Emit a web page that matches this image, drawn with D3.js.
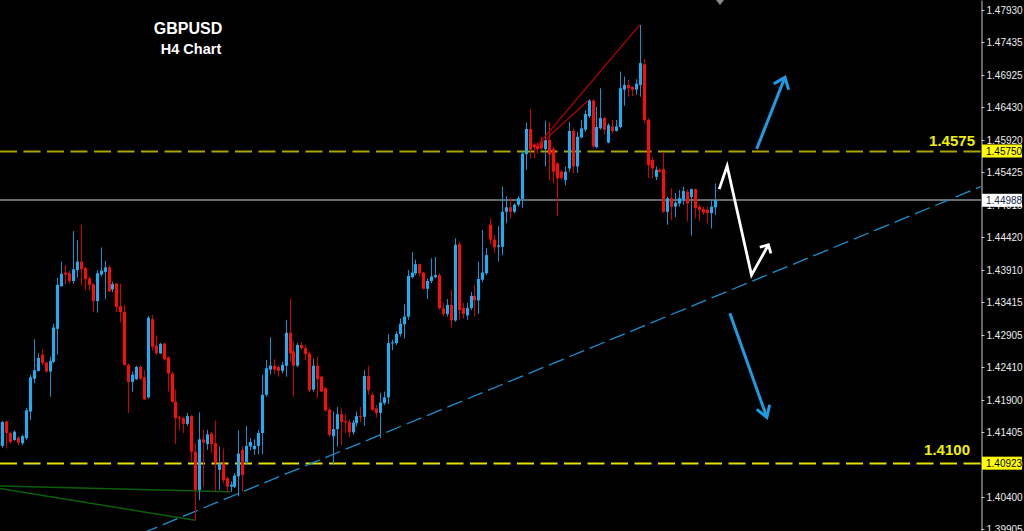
<!DOCTYPE html>
<html><head><meta charset="utf-8">
<script src="https://cdn.jsdelivr.net/npm/d3@7"></script>
<style>html,body{margin:0;padding:0;background:#000;overflow:hidden}</style>
</head><body>
<svg id="chart" width="1024" height="531"></svg>
<script>
// ---- DATA (GBPUSD H4) ----
const openP = [1.4119,1.4157,1.4139,1.4128,1.4132,1.4123,1.4131,1.4172,1.4223,1.4235,1.4260,1.4248,1.4234,1.4249,1.4300,1.4366,1.4387,1.4386,1.4374,1.4391,
1.4404,1.4394,1.4378,1.4369,1.4343,1.4384,1.4388,1.4395,1.4361,1.4370,1.4335,1.4326,1.4244,1.4218,1.4222,1.4241,1.4225,1.4194,1.4315,1.4274,
1.4262,1.4277,1.4256,1.4231,1.4187,1.4163,1.4162,1.4153,1.4165,1.4110,1.4051,1.4129,1.4122,1.4138,1.4123,1.4082,1.4092,1.4069,1.4056,1.4056,
1.4072,1.4113,1.4094,1.4118,1.4114,1.4119,1.4139,1.4198,1.4237,1.4243,1.4241,1.4235,1.4243,1.4294,1.4265,1.4243,1.4275,1.4270,1.4262,1.4206,
1.4243,1.4226,1.4208,1.4175,1.4134,1.4145,1.4168,1.4157,1.4156,1.4140,1.4154,1.4165,1.4164,1.4227,1.4198,1.4177,1.4170,1.4185,1.4194,1.4278,
1.4278,1.4292,1.4307,1.4319,1.4380,1.4386,1.4400,1.4387,1.4362,1.4374,1.4380,1.4383,1.4332,1.4323,1.4337,1.4313,1.4431,1.4332,1.4321,1.4332,
1.4351,1.4344,1.4376,1.4386,1.4461,1.4438,1.4427,1.4427,1.4481,1.4488,1.4481,1.4492,1.4501,1.4570,1.4609,1.4585,1.4583,1.4590,1.4578,1.4592,
1.4578,1.4556,1.4543,1.4530,1.4548,1.4606,1.4551,1.4596,1.4608,1.4629,1.4653,1.4581,1.4610,1.4626,1.4588,1.4613,1.4606,1.4612,1.4670,1.4677,
1.4674,1.4670,1.4677,1.4709,1.4623,1.4561,1.4535,1.4546,1.4547,1.4481,1.4502,1.4489,1.4494,1.4500,1.4512,1.4504,1.4516,1.4489,1.4485,1.4484,
1.4479,1.4488];
const highP = [1.4158,1.4158,1.4141,1.4143,1.4134,1.4136,1.4178,1.4229,1.4284,1.4262,1.4268,1.4249,1.4257,1.4308,1.4379,1.4404,1.4399,1.4390,1.4451,1.4437,
1.4461,1.4396,1.4381,1.4370,1.4391,1.4426,1.4405,1.4398,1.4373,1.4371,1.4370,1.4337,1.4246,1.4234,1.4243,1.4243,1.4236,1.4320,1.4321,1.4290,
1.4278,1.4279,1.4257,1.4234,1.4206,1.4166,1.4164,1.4170,1.4167,1.4123,1.4171,1.4144,1.4144,1.4141,1.4158,1.4118,1.4115,1.4071,1.4064,1.4077,
1.4143,1.4119,1.4150,1.4131,1.4129,1.4144,1.4229,1.4252,1.4287,1.4253,1.4244,1.4249,1.4314,1.4347,1.4280,1.4278,1.4280,1.4275,1.4265,1.4254,
1.4257,1.4227,1.4210,1.4179,1.4172,1.4179,1.4177,1.4168,1.4159,1.4159,1.4172,1.4179,1.4236,1.4243,1.4201,1.4182,1.4201,1.4203,1.4292,1.4283,
1.4296,1.4316,1.4338,1.4391,1.4419,1.4407,1.4401,1.4388,1.4378,1.4409,1.4411,1.4386,1.4340,1.4346,1.4360,1.4440,1.4435,1.4340,1.4340,1.4357,
1.4368,1.4404,1.4453,1.4425,1.4471,1.4445,1.4459,1.4520,1.4505,1.4503,1.4494,1.4505,1.4574,1.4619,1.4640,1.4588,1.4587,1.4597,1.4622,1.4620,
1.4582,1.4557,1.4546,1.4551,1.4620,1.4610,1.4605,1.4623,1.4638,1.4655,1.4655,1.4643,1.4672,1.4628,1.4618,1.4623,1.4623,1.4698,1.4690,1.4685,
1.4676,1.4686,1.4770,1.4717,1.4626,1.4566,1.4551,1.4548,1.4573,1.4504,1.4517,1.4510,1.4515,1.4520,1.4515,1.4517,1.4517,1.4492,1.4489,1.4489,
1.4499,1.4525];
const lowP = [1.4116,1.4115,1.4123,1.4127,1.4120,1.4120,1.4128,1.4159,1.4216,1.4234,1.4244,1.4232,1.4195,1.4247,1.4260,1.4365,1.4369,1.4370,1.4370,1.4380,
1.4367,1.4360,1.4360,1.4326,1.4325,1.4381,1.4346,1.4357,1.4357,1.4326,1.4310,1.4243,1.4170,1.4203,1.4221,1.4221,1.4190,1.4192,1.4266,1.4260,
1.4261,1.4251,1.4203,1.4186,1.4122,1.4143,1.4139,1.4150,1.4095,1.4004,1.4035,1.4056,1.4113,1.4107,1.4048,1.4051,1.4061,1.4048,1.4048,1.4054,
1.4041,1.4048,1.4090,1.4112,1.4105,1.4106,1.4106,1.4195,1.4229,1.4230,1.4226,1.4231,1.4226,1.4249,1.4195,1.4241,1.4267,1.4252,1.4202,1.4203,
1.4193,1.4202,1.4172,1.4133,1.4091,1.4118,1.4120,1.4139,1.4133,1.4136,1.4149,1.4156,1.4150,1.4198,1.4173,1.4163,1.4131,1.4182,1.4184,1.4267,
1.4275,1.4288,1.4285,1.4314,1.4378,1.4383,1.4381,1.4361,1.4346,1.4371,1.4378,1.4329,1.4319,1.4319,1.4302,1.4311,1.4314,1.4316,1.4314,1.4329,
1.4319,1.4323,1.4372,1.4383,1.4431,1.4417,1.4404,1.4414,1.4463,1.4471,1.4479,1.4489,1.4487,1.4546,1.4564,1.4564,1.4571,1.4577,1.4551,1.4530,
1.4525,1.4474,1.4530,1.4522,1.4543,1.4541,1.4541,1.4595,1.4605,1.4626,1.4579,1.4579,1.4608,1.4600,1.4587,1.4602,1.4605,1.4610,1.4645,1.4659,
1.4660,1.4662,1.4659,1.4618,1.4533,1.4533,1.4530,1.4541,1.4479,1.4461,1.4468,1.4473,1.4489,1.4492,1.4466,1.4444,1.4471,1.4466,1.4476,1.4463,
1.4455,1.4476];
const closeP = [1.4156,1.4139,1.4125,1.4141,1.4124,1.4134,1.4174,1.4225,1.4236,1.4255,1.4247,1.4234,1.4250,1.4302,1.4368,1.4385,1.4384,1.4374,1.4392,1.4404,
1.4392,1.4377,1.4368,1.4343,1.4386,1.4390,1.4395,1.4358,1.4369,1.4334,1.4326,1.4244,1.4218,1.4229,1.4241,1.4223,1.4191,1.4317,1.4272,1.4262,
1.4277,1.4253,1.4231,1.4187,1.4162,1.4161,1.4153,1.4165,1.4110,1.4051,1.4129,1.4124,1.4137,1.4122,1.4092,1.4092,1.4066,1.4056,1.4059,1.4073,
1.4107,1.4074,1.4119,1.4125,1.4119,1.4139,1.4198,1.4239,1.4243,1.4237,1.4235,1.4244,1.4294,1.4262,1.4243,1.4275,1.4270,1.4261,1.4205,1.4243,
1.4222,1.4203,1.4174,1.4136,1.4145,1.4168,1.4156,1.4155,1.4140,1.4155,1.4165,1.4164,1.4227,1.4205,1.4175,1.4170,1.4186,1.4194,1.4278,1.4279,
1.4292,1.4308,1.4319,1.4382,1.4387,1.4400,1.4386,1.4362,1.4374,1.4381,1.4383,1.4332,1.4323,1.4337,1.4313,1.4430,1.4329,1.4323,1.4332,1.4351,
1.4344,1.4377,1.4387,1.4414,1.4438,1.4426,1.4429,1.4481,1.4488,1.4481,1.4492,1.4502,1.4571,1.4609,1.4577,1.4581,1.4578,1.4579,1.4592,1.4570,
1.4543,1.4533,1.4533,1.4543,1.4606,1.4551,1.4597,1.4610,1.4632,1.4653,1.4582,1.4612,1.4626,1.4608,1.4615,1.4606,1.4613,1.4672,1.4677,1.4672,
1.4670,1.4679,1.4711,1.4623,1.4553,1.4548,1.4546,1.4543,1.4481,1.4502,1.4489,1.4495,1.4502,1.4513,1.4494,1.4516,1.4487,1.4484,1.4480,1.4479,
1.4489,1.4499];
const tickValues = [1.47930,1.47435,1.46925,1.46430,1.45920,1.45425,1.44915,1.44420,1.43910,1.43415,1.42905,1.42410,1.41900,1.41405,1.40910,1.40400,1.39905];
const levelPrices = [1.4575, 1.40923];
const levelTexts = ["1.4575", "1.4100"];
const levelBoxTexts = ["1.45750", "1.40923"];
const lastPrice = 1.44988;
const titleText = "GBPUSD";
const subtitleText = "H4 Chart";
// drawn objects, in (bar index, price)
const trendPts = [[58.87, 1.4040], [249.72, 1.4520]];
const greenLines = [[[0.4, 1.4057], [59, 1.4048]], [[0.4, 1.4053], [50, 1.4004]]];
const redLines = [[[136.8, 1.4582], [163, 1.4770]], [[137.2, 1.4583], [149.9, 1.4653]]];
const whitePath = [[183.2, 1.4516], [185.2, 1.4552], [191.4, 1.4383], [195.7, 1.4430]];
const upArrow = [[192.7, 1.4578], [199.9, 1.4689]];
const downArrow = [[185.9, 1.4324], [195.3, 1.4163]];

// ---- CHART ----
const W = 1024, H = 531, plotW = 981;
const svg = d3.select("#chart");
svg.append("rect").attr("width", W).attr("height", H).attr("fill", "#000");

const x = d3.scaleLinear().domain([0.4155, 249.72]).range([0, plotW]);
const y = d3.scaleLinear().domain([1.39874, 1.48085]).range([H, 0]);

svg.append("clipPath").attr("id", "clip").append("rect")
  .attr("x", 0).attr("y", 0).attr("width", plotW).attr("height", H);
const g = svg.append("g").attr("clip-path", "url(#clip)");

const line = d3.line().x(d => x(d[0])).y(d => y(d[1]));

// horizontal levels
const lvlColors = ["#aaa500", "#e2e000"];
levelPrices.forEach((p, k) => {
  g.append("line").attr("x1", 0).attr("x2", plotW)
    .attr("y1", Math.round(y(p)) + 0.5).attr("y2", Math.round(y(p)) + 0.5)
    .attr("stroke", lvlColors[k]).attr("stroke-width", 2)
    .attr("stroke-dasharray", "17,6.5");
});
// last price line
g.append("line").attr("x1", 0).attr("x2", plotW)
  .attr("y1", Math.round(y(lastPrice))).attr("y2", Math.round(y(lastPrice)))
  .attr("stroke", "#676c73").attr("stroke-width", 2);

// green lines
greenLines.forEach(l => g.append("path").attr("d", line(l))
  .attr("fill", "none").attr("stroke", "#0a600a").attr("stroke-width", 1.5));

// trend line extended
const slope = (trendPts[1][1] - trendPts[0][1]) / (trendPts[1][0] - trendPts[0][0]);
const dom = x.domain();
const trendExt = [[dom[0], trendPts[0][1] + slope * (dom[0] - trendPts[0][0])],
                  [dom[1], trendPts[0][1] + slope * (dom[1] - trendPts[0][0])]];
g.append("path").attr("d", line(trendExt)).attr("fill", "none")
  .attr("stroke", "#1890cc").attr("stroke-width", 1.3).attr("stroke-dasharray", "16,6");

// candles
const data = openP.map((o, i) => ({i: i + 1, o, h: highP[i], l: lowP[i], c: closeP[i]}));
const bull = "#17b0f5", bear = "#ff0a0a";
const cg = g.append("g");
cg.selectAll(".wick").data(data).enter().append("rect")
  .attr("x", d => Math.round(x(d.i)))
  .attr("y", d => y(d.h)).attr("width", 1)
  .attr("height", d => Math.max(1, y(d.l) - y(d.h)))
  .attr("fill", d => d.c >= d.o ? "#1590d0" : "#d40000");
cg.selectAll(".body").data(data).enter().append("rect")
  .attr("x", d => Math.round(x(d.i)) - 1)
  .attr("y", d => y(Math.max(d.o, d.c))).attr("width", 3)
  .attr("height", d => Math.max(1, Math.abs(y(d.o) - y(d.c))))
  .attr("fill", d => d.c >= d.o ? bull : bear);

// red lines
redLines.forEach(l => g.append("path").attr("d", line(l))
  .attr("fill", "none").attr("stroke", "#c00000").attr("stroke-width", 1.2));

// arrows
function arrowHead(pts, len, angDeg) {
  const p0 = [x(pts[pts.length - 2][0]), y(pts[pts.length - 2][1])];
  const p1 = [x(pts[pts.length - 1][0]), y(pts[pts.length - 1][1])];
  const a = Math.atan2(p0[1] - p1[1], p0[0] - p1[0]);
  const r = angDeg * Math.PI / 180;
  return "M" + (p1[0] + len * Math.cos(a + r)) + "," + (p1[1] + len * Math.sin(a + r)) +
    "L" + p1[0] + "," + p1[1] +
    "L" + (p1[0] + len * Math.cos(a - r)) + "," + (p1[1] + len * Math.sin(a - r));
}
function drawArrow(pts, color, w, len, ang) {
  g.append("path").attr("d", line(pts)).attr("fill", "none").attr("stroke", color)
    .attr("stroke-width", w).attr("stroke-linejoin", "miter").attr("stroke-linecap", "butt");
  g.append("path").attr("d", arrowHead(pts, len, ang)).attr("fill", "none").attr("stroke", color)
    .attr("stroke-width", w).attr("stroke-linejoin", "miter");
}
drawArrow(whitePath, "#ffffff", 2.8, 9, 45);
drawArrow(upArrow, "#1e9be2", 3, 13, 38);
drawArrow(downArrow, "#1e9be2", 3, 13, 32);

// small marker at top
g.append("path").attr("d", "M716,0L724,0L720,5Z").attr("fill", "#8a8a8a");

// level labels
const lvlTextX = [975, 970];
const lvlTextDy = [-5, -8];
levelPrices.forEach((p, k) => {
  svg.append("text").attr("x", lvlTextX[k]).attr("y", y(p) + lvlTextDy[k])
    .attr("text-anchor", "end").attr("fill", k === 0 ? "#f0f000" : "#f0f000")
    .attr("font-family", "Liberation Sans, Arial, sans-serif").attr("font-weight", "bold")
    .attr("font-size", "15px").text(levelTexts[k]);
});

// titles
svg.append("text").attr("x", 188).attr("y", 34).attr("text-anchor", "middle")
  .attr("fill", "#fff").attr("font-family", "Liberation Sans, Arial, sans-serif")
  .attr("font-weight", "bold").attr("font-size", "16px").text(titleText);
svg.append("text").attr("x", 191).attr("y", 54).attr("text-anchor", "middle")
  .attr("fill", "#fff").attr("font-family", "Liberation Sans, Arial, sans-serif")
  .attr("font-weight", "bold").attr("font-size", "14.5px").text(subtitleText);

// right axis
const axis = d3.axisRight(y).tickValues(tickValues).tickSize(3).tickSizeOuter(0)
  .tickPadding(2).tickFormat(d => d.toFixed(5));
const ag = svg.append("g").attr("transform", `translate(${plotW + 0.5},0)`).call(axis);
ag.select(".domain").attr("stroke", "#c8c8c8");
ag.selectAll(".tick line").attr("stroke", "#c8c8c8");
ag.selectAll(".tick text").attr("fill", "#ececec")
  .attr("font-family", "Liberation Sans, Arial, sans-serif").attr("font-size", "10px");

// price boxes
function priceBox(p, txt, bg, fg) {
  const yy = y(p);
  svg.append("rect").attr("x", 982).attr("y", yy - 6.5).attr("width", 40).attr("height", 13).attr("fill", bg);
  svg.append("text").attr("x", 986).attr("y", yy).attr("dy", "0.35em").attr("fill", fg)
    .attr("font-family", "Liberation Sans, Arial, sans-serif").attr("font-size", "10px").text(txt);
}
priceBox(levelPrices[0], levelBoxTexts[0], "#ffff00", "#000");
priceBox(levelPrices[1], levelBoxTexts[1], "#ffff00", "#000");
priceBox(lastPrice, lastPrice.toFixed(5), "#ffffff", "#1a2a4a");
</script>
</body></html>
